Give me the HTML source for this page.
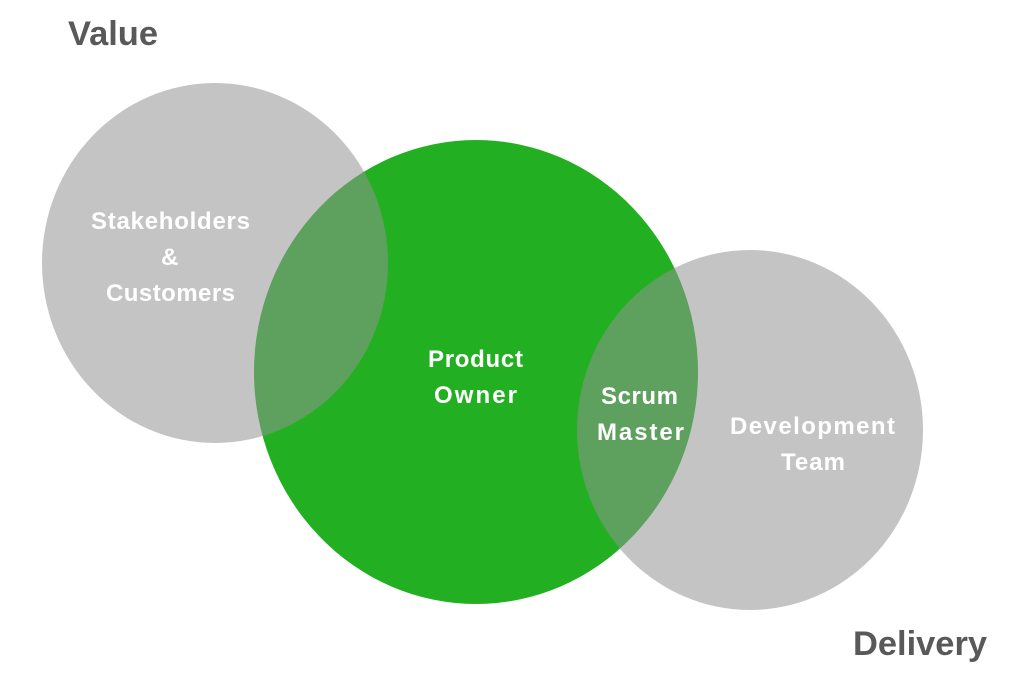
<!DOCTYPE html>
<html><head><meta charset="utf-8"><style>
html,body{margin:0;padding:0;background:#fff;}
body{width:1022px;height:675px;overflow:hidden;}
</style></head><body>
<svg width="1022" height="675" viewBox="0 0 1022 675" xmlns="http://www.w3.org/2000/svg" font-family="Liberation Sans, sans-serif" font-weight="bold">
<rect width="1022" height="675" fill="#fff"/>
<ellipse cx="476" cy="372" rx="222" ry="232" fill="#22b022"/>
<ellipse cx="215" cy="263" rx="173" ry="180" fill="#929292" fill-opacity="0.54"/>
<ellipse cx="750" cy="430" rx="173" ry="180" fill="#929292" fill-opacity="0.54"/>
<text x="68" y="45" font-size="34" fill="#595959" textLength="90" lengthAdjust="spacingAndGlyphs">Value</text>
<text x="853" y="655" font-size="34" fill="#595959" textLength="134" lengthAdjust="spacingAndGlyphs">Delivery</text>
<g fill="#fff" font-size="24" lengthAdjust="spacingAndGlyphs">
<text x="91" y="229" textLength="159">Stakeholders</text>
<text x="161" y="265" textLength="20">&amp;</text>
<text x="106" y="301" textLength="129">Customers</text>
<text x="428" y="367" textLength="95">Product</text>
<text x="434" y="403" textLength="83">Owner</text>
<text x="601" y="404" textLength="77">Scrum</text>
<text x="597" y="440" textLength="87">Master</text>
<text x="730" y="434" textLength="165">Development</text>
<text x="781" y="470" textLength="64">Team</text>
</g>
</svg>
</body></html>
